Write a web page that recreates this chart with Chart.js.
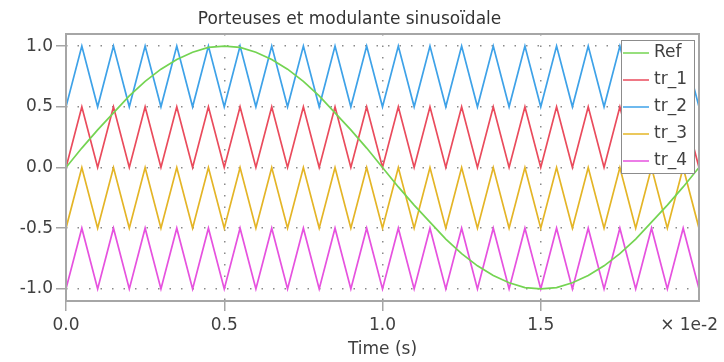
<!DOCTYPE html>
<html>
<head>
<meta charset="utf-8">
<script src="https://cdn.jsdelivr.net/npm/chart.js@4.4.1/dist/chart.umd.min.js"></script>
<style>
  html, body { margin: 0; padding: 0; background: #fff; }
  #chart { display: block; }
</style>
</head>
<body>
<canvas id="chart" width="724" height="362"></canvas>
<script>
// time in seconds (carrier vertices every 0.5 ms)
const time = [
  0, 0.0005, 0.001, 0.0015, 0.002, 0.0025, 0.003, 0.0035, 0.004, 0.0045,
  0.005, 0.0055, 0.006, 0.0065, 0.007, 0.0075, 0.008, 0.0085, 0.009, 0.0095,
  0.01, 0.0105, 0.011, 0.0115, 0.012, 0.0125, 0.013, 0.0135, 0.014, 0.0145,
  0.015, 0.0155, 0.016, 0.0165, 0.017, 0.0175, 0.018, 0.0185, 0.019, 0.0195,
  0.02
];
const ref = [
  0, 0.16, 0.31, 0.45, 0.59, 0.71, 0.81, 0.89, 0.95, 0.99,
  1, 0.99, 0.95, 0.89, 0.81, 0.71, 0.59, 0.45, 0.31, 0.16,
  0, -0.16, -0.31, -0.45, -0.59, -0.71, -0.81, -0.89, -0.95, -0.99,
  -1, -0.99, -0.95, -0.89, -0.81, -0.71, -0.59, -0.45, -0.31, -0.16,
  0
];
const tr1 = [
  0, 0.5, 0, 0.5, 0, 0.5, 0, 0.5, 0, 0.5, 0, 0.5, 0, 0.5, 0, 0.5, 0, 0.5, 0, 0.5,
  0, 0.5, 0, 0.5, 0, 0.5, 0, 0.5, 0, 0.5, 0, 0.5, 0, 0.5, 0, 0.5, 0, 0.5, 0, 0.5, 0
];
const tr2 = [
  0.5, 1, 0.5, 1, 0.5, 1, 0.5, 1, 0.5, 1, 0.5, 1, 0.5, 1, 0.5, 1, 0.5, 1, 0.5, 1,
  0.5, 1, 0.5, 1, 0.5, 1, 0.5, 1, 0.5, 1, 0.5, 1, 0.5, 1, 0.5, 1, 0.5, 1, 0.5, 1, 0.5
];
const tr3 = [
  -0.5, 0, -0.5, 0, -0.5, 0, -0.5, 0, -0.5, 0, -0.5, 0, -0.5, 0, -0.5, 0, -0.5, 0, -0.5, 0,
  -0.5, 0, -0.5, 0, -0.5, 0, -0.5, 0, -0.5, 0, -0.5, 0, -0.5, 0, -0.5, 0, -0.5, 0, -0.5, 0, -0.5
];
const tr4 = [
  -1, -0.5, -1, -0.5, -1, -0.5, -1, -0.5, -1, -0.5, -1, -0.5, -1, -0.5, -1, -0.5, -1, -0.5, -1, -0.5,
  -1, -0.5, -1, -0.5, -1, -0.5, -1, -0.5, -1, -0.5, -1, -0.5, -1, -0.5, -1, -0.5, -1, -0.5, -1, -0.5, -1
];
const seriesNames = ['Ref', 'tr_1', 'tr_2', 'tr_3', 'tr_4'];
const xTicks = [0, 0.005, 0.01, 0.015];
const yTicks = [-1, -0.5, 0, 0.5, 1];

const colors = ['#74d452', '#ea4b5c', '#3ea2e8', '#e4b526', '#e652df'];
const font = "'DejaVu Sans', sans-serif";
const textColor = '#404040';

const series = [ref, tr1, tr2, tr3, tr4];
const datasets = series.map((vals, k) => ({
  label: seriesNames[k],
  data: time.map((t, i) => ({ x: t, y: vals[i] })),
  borderColor: colors[k],
  borderWidth: 1.7,
  pointRadius: 0,
  fill: false,
  order: k === 0 ? 0 : 1
}));

// frame, legend box and the exponent label
const extras = {
  id: 'extras',
  afterDatasetsDraw(chart) {
    const { ctx, chartArea: a } = chart;
    ctx.save();
    ctx.strokeStyle = '#a6a6a6';
    ctx.lineWidth = 2;
    ctx.strokeRect(a.left, a.top, a.right - a.left, a.bottom - a.top);

    // legend
    const bx = a.right - 78, by = a.top + 6, bw = 73, bh = 133;
    ctx.fillStyle = '#fff';
    ctx.fillRect(bx, by, bw, bh);
    ctx.strokeStyle = '#8c8c8c';
    ctx.lineWidth = 1;
    ctx.strokeRect(bx + 0.5, by + 0.5, bw, bh);
    ctx.font = '17px ' + font;
    ctx.textBaseline = 'middle';
    ctx.textAlign = 'left';
    chart.data.datasets.forEach((ds, k) => {
      const yy = by + 13 + k * 27;
      ctx.strokeStyle = ds.borderColor;
      ctx.globalAlpha = 0.75;
      ctx.lineWidth = 2;
      ctx.beginPath();
      ctx.moveTo(bx + 2, yy);
      ctx.lineTo(bx + 28, yy);
      ctx.stroke();
      ctx.globalAlpha = 1;
      ctx.fillStyle = textColor;
      ctx.fillText(ds.label, bx + 33, yy);
    });

    ctx.font = '17px ' + font;
    ctx.textAlign = 'right';
    ctx.fillStyle = textColor;
    ctx.fillText('\u00d7 1e-2', 718, a.bottom + 25);
    ctx.restore();
  }
};

const gridOpts = {
  color: '#8a8a8a',
  lineWidth: 1.5,
  tickColor: '#a6a6a6',
  tickWidth: 1.5,
  tickBorderDash: [],
  tickLength: 10
};

new Chart(document.getElementById('chart'), {
  type: 'line',
  data: { datasets },
  options: {
    responsive: false,
    animation: false,
    layout: { padding: { left: 0, right: 25, top: 0, bottom: 0 } },
    plugins: {
      legend: { display: false },
      tooltip: { enabled: false },
      title: {
        display: true,
        text: 'Porteuses et modulante sinusoïdale',
        color: '#333',
        font: { family: font, size: 17, weight: 'normal', lineHeight: 1.2 },
        padding: { top: 9, bottom: 4.6 }
      }
    },
    scales: {
      x: {
        type: 'linear',
        min: 0,
        max: 0.02,
        afterBuildTicks: s => { s.ticks = xTicks.map(v => ({ value: v })); },
        afterFit: s => { s.height = 61; },
        border: { display: false, dash: [1.5, 10] },
        grid: gridOpts,
        ticks: {
          color: textColor,
          padding: 4,
          maxRotation: 0,
          font: { family: font, size: 17 },
          callback: v => (v * 100).toFixed(1)
        },
        title: {
          display: true,
          text: 'Time (s)',
          color: textColor,
          font: { family: font, size: 17 },
          padding: { top: 0, bottom: 2 }
        }
      },
      y: {
        min: -1.1,
        max: 1.1,
        afterBuildTicks: s => { s.ticks = yTicks.map(v => ({ value: v })); },
        afterFit: s => { s.width = 66; },
        border: { display: false, dash: [1.5, 10] },
        grid: gridOpts,
        ticks: {
          color: textColor,
          padding: 3,
          font: { family: font, size: 17 },
          callback: v => v.toFixed(1)
        }
      }
    }
  },
  plugins: [extras]
});
</script>
</body>
</html>
